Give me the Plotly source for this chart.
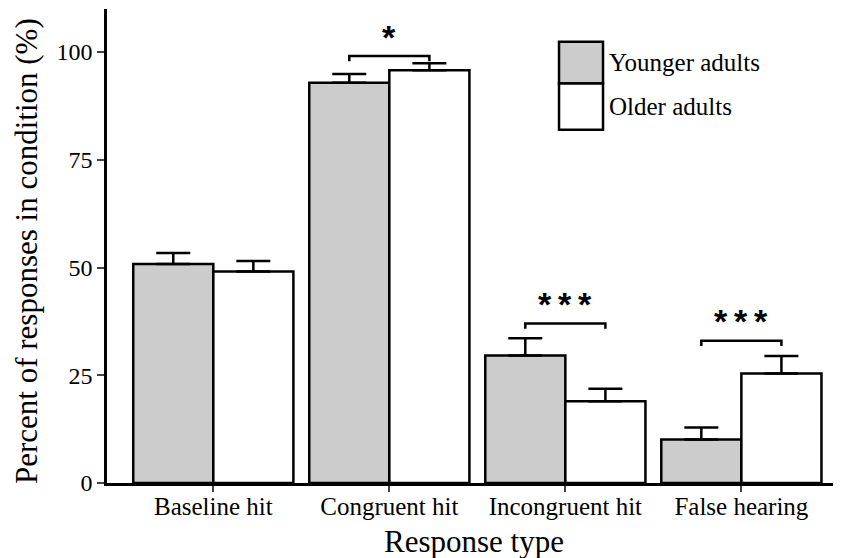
import plotly.graph_objects as go

categories = ["Baseline hit", "Congruent hit", "Incongruent hit", "False hearing"]
younger = [50.8, 92.9, 29.6, 10.1]
younger_err = [2.6, 2.0, 4.0, 2.8]
older = [49.1, 95.8, 19.0, 25.4]
older_err = [2.4, 1.6, 2.9, 4.1]

# significance brackets: category index, bracket height, label
sig_cat = [1, 2, 3]
sig_y = [99.1, 37.0, 33.0]
sig_label = ["*", "*\u2009*\u2009*", "*\u2009*\u2009*"]

groups = ["Younger adults", "Older adults"]
group_fill = ["#cccccc", "#ffffff"]

FONT = "Liberation Serif"
bargap = 0.09
half = (1 - bargap) / 4  # offset of each bar centre from category centre
x = list(range(len(categories)))

fig = go.Figure()
for name, vals, errs, fill in zip(groups, [younger, older], [younger_err, older_err], group_fill):
    fig.add_trace(go.Bar(
        x=x, y=vals, name=name,
        marker=dict(color=fill, line=dict(color="black", width=2.5)),
        error_y=dict(type="data", symmetric=False, array=errs,
                     arrayminus=[0] * len(errs),
                     color="black", thickness=2.5, width=17),
        showlegend=False,
    ))

for c, yb, lab in zip(sig_cat, sig_y, sig_label):
    x0, x1 = c - half, c + half
    fig.add_shape(type="path",
                  path=f"M {x0},{yb - 1.2} L {x0},{yb} L {x1},{yb} L {x1},{yb - 1.2}",
                  line=dict(color="black", width=2.5))
    fig.add_annotation(x=c, y=yb + 4.5, text=lab, showarrow=False,
                       yanchor="middle",
                       font=dict(family="Liberation Sans", size=34, color="black",
                                 weight="bold"))

# hand-drawn legend boxes
leg_x0, leg_x1 = 1.964, 2.214
leg_rows = [(92.7, 102.4), (82.0, 92.7)]
for (y0, y1), name, fill in zip(leg_rows, groups, group_fill):
    fig.add_shape(type="rect", x0=leg_x0, x1=leg_x1, y0=y0, y1=y1,
                  fillcolor=fill, line=dict(color="black", width=2.5))
    fig.add_annotation(x=leg_x1 + 0.02, y=(y0 + y1) / 2, text=name,
                       showarrow=False, xanchor="left", yanchor="middle",
                       font=dict(family=FONT, size=25, color="black"))

# axis titles placed by hand so they stay inside the page
fig.add_annotation(x=0.5, y=-0.124, xref="paper", yref="paper",
                   text="Response type", showarrow=False,
                   xanchor="center", yanchor="middle",
                   font=dict(family=FONT, size=31, color="black"))
fig.add_annotation(x=-0.110, y=0.49, xref="paper", yref="paper",
                   text="Percent of responses in condition (%)", showarrow=False,
                   textangle=-90, xanchor="center", yanchor="middle",
                   font=dict(family=FONT, size=31, color="black"))

# page body has an 8px margin, so the plot area is shifted up/left by 8px
fig.update_layout(
    width=841, height=558,
    margin=dict(l=99, r=8, t=1, b=83, pad=0),
    barmode="group", bargap=bargap, bargroupgap=0,
    plot_bgcolor="white", paper_bgcolor="white",
    font=dict(family=FONT, size=24, color="black"),
)
fig.update_xaxes(
    range=[-0.604, 3.566], tickvals=x, ticktext=categories,
    showline=True, linecolor="black", linewidth=2.5,
    ticks="outside", ticklen=6, tickcolor="#444", tickwidth=2,
    tickfont=dict(family=FONT, size=25), ticklabelstandoff=-7,
    showgrid=False, zeroline=False, automargin=False,
)
fig.update_yaxes(
    range=[0, 110], tickvals=[0, 25, 50, 75, 100],
    showline=True, linecolor="black", linewidth=2.5,
    ticks="outside", ticklen=7, tickcolor="#444", tickwidth=2,
    tickfont=dict(family=FONT, size=24),
    showgrid=False, zeroline=False, automargin=False,
)

fig.write_html("out.html")
